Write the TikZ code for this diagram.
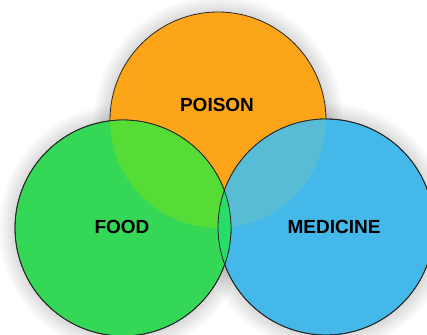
\documentclass[tikz,border=0pt]{standalone}
\usepackage{fontspec}
\setmainfont{Liberation Sans}
\usetikzlibrary{shadows, backgrounds}
\definecolor{poisonorange}{RGB}{253,165,24}
\definecolor{foodgreen}{RGB}{52,216,86}
\definecolor{medblue}{RGB}{68,184,232}
\definecolor{poisonfood}{RGB}{86,220,54}
\definecolor{poisonmed}{RGB}{88,188,212}
\definecolor{foodmed}{RGB}{36,222,104}
\tikzset{
    setdisc/.style={circle, minimum size=216pt, inner sep=0pt, draw=black!85, line width=0.8pt},
    glowdisc/.style={circle, minimum size=216pt, inner sep=0pt, circular glow={fill=black, opacity=0.16, shadow scale=1.16}},
    rim/.style={draw=black!85, line width=0.8pt},
    setlabel/.style={font=\fontsize{19}{22}\selectfont\bfseries, text=black}
}
\begin{document}
\begin{tikzpicture}[x=1pt,y=1pt]
    \useasboundingbox (0,0) rectangle (427,334);
    % Centres of the three sets
    \coordinate (cpoison) at (218,214);
    \coordinate (cfood)   at (123,106);
    \coordinate (cmed)    at (326,107);

    % Soft shadow round the discs, with a white base so it stays outside
    \begin{scope}[on background layer]
        \foreach \c in {cpoison,cfood,cmed}
            \node[glowdisc] at (\c) {};
        \foreach \c in {cpoison,cfood,cmed}
            \fill[white] (\c) circle (108);
    \end{scope}

    % Discs
    \node[setdisc, fill=poisonorange] (poison) at (cpoison) {};
    \node[setdisc, fill=medblue]      (med)    at (cmed)    {};
    \node[setdisc, fill=foodgreen]    (food)   at (cfood)   {};

    % Overlaps
    \begin{scope}
        \clip (cpoison) circle (108);
        \fill[poisonfood] (cfood) circle (108);
    \end{scope}
    \begin{scope}
        \clip (cpoison) circle (108);
        \fill[poisonmed] (cmed) circle (108);
    \end{scope}
    \begin{scope}
        \clip (cfood) circle (108);
        \fill[foodmed] (cmed) circle (108);
    \end{scope}
    \draw[rim] (cmed) circle (108);
    \draw[rim] (cfood) circle (108);

    % Labels
    \node[setlabel] (poisontext) at (217,229) {POISON};
    \node[setlabel] (foodtext)   at (122,107) {FOOD};
    \node[setlabel] (medtext)    at (334,107) {MEDICINE};
\end{tikzpicture}
\end{document}
